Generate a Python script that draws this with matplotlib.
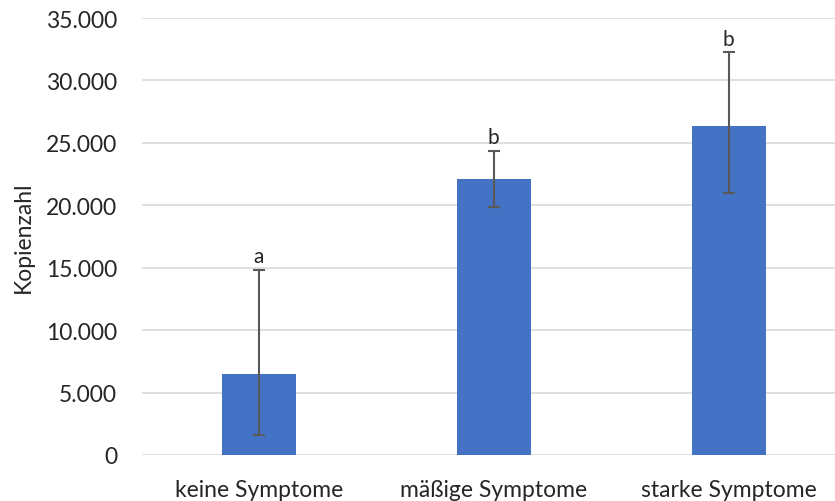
import matplotlib
matplotlib.use("Agg")
import matplotlib.pyplot as plt
from matplotlib.ticker import FuncFormatter
import numpy as np

categories = ["keine Symptome", "mäßige Symptome", "starke Symptome"]
means = [6470, 22090, 26340]
err_upper = [14850, 24380, 32270]
err_lower = [1600, 19900, 21020]
letters = ["a", "b", "b"]
yticks = [0, 5000, 10000, 15000, 20000, 25000, 30000, 35000]

plt.rcParams["font.family"] = ["Lato", "DejaVu Sans"]

fig = plt.figure(figsize=(8.35, 5.02), dpi=100)
ax = fig.add_axes([141.5 / 835, 1 - 456 / 502, 704.5 / 835, (456 - 19) / 502])

x = np.arange(len(categories))
means_a = np.array(means)
yerr = np.vstack([means_a - np.array(err_lower), np.array(err_upper) - means_a])

ax.bar(x, means, width=0.315, color="#4472C4", zorder=2)
ax.errorbar(x, means, yerr=yerr, fmt="none", ecolor="#595959",
            elinewidth=1.5, capsize=4, capthick=1.5, zorder=3)

for xi, top, lab in zip(x, err_upper, letters):
    ax.text(xi, top + 580, lab, ha="center", va="baseline", fontsize=15,
            color="#262626")

ax.set_xlim(-0.5, 2.5)
ax.set_ylim(0, 35000)
ax.set_yticks(yticks)
ax.yaxis.set_major_formatter(FuncFormatter(lambda v, p: f"{int(v):,}".replace(",", ".")))
ax.set_xticks(x)
ax.set_xticklabels(categories)
ax.grid(axis="y", color="#d9d9d9", linewidth=1.2, zorder=0)
ax.set_axisbelow(True)
for s in ax.spines.values():
    s.set_visible(False)
ax.tick_params(axis="both", length=0, labelsize=16.5, labelcolor="#262626")
ax.tick_params(axis="y", pad=17.5)
ax.tick_params(axis="x", pad=17)
ax.set_ylabel("Kopienzahl", fontsize=16.5, color="#262626", labelpad=9)

fig.savefig("out.png", dpi=100)
